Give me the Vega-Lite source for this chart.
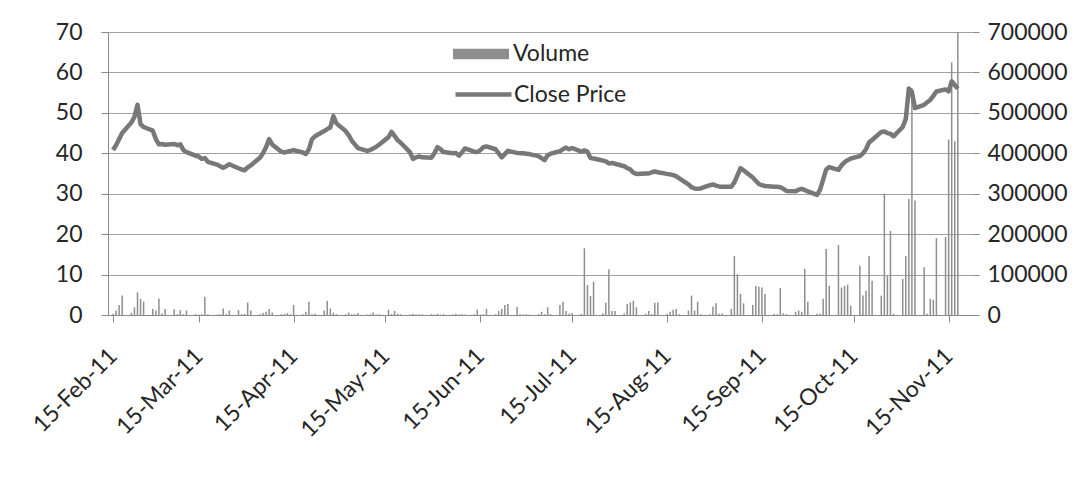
{
"$schema": "https://vega.github.io/schema/vega-lite/v6.json",
"width": 864, "height": 283,
"autosize": {"type": "none"},
"padding": {"left": 108, "top": 32, "right": 107, "bottom": 171},
"background": "white",
"config": {"font": "Lato", "view": {"stroke": null}},
"data": {"format": {"parse": {"date": "date:'%Y-%m-%d'"}}, "values": [
{"date":"2011-02-15","price":40.8,"volume":3000},
{"date":"2011-02-16","price":42.0,"volume":11000},
{"date":"2011-02-17","price":43.5,"volume":25000},
{"date":"2011-02-18","price":45.0,"volume":48000},
{"date":"2011-02-21","price":47.6,"volume":5000},
{"date":"2011-02-22","price":49.0,"volume":19000},
{"date":"2011-02-23","price":52.0,"volume":56000},
{"date":"2011-02-24","price":47.2,"volume":40000},
{"date":"2011-02-25","price":46.5,"volume":33000},
{"date":"2011-02-28","price":45.6,"volume":15000},
{"date":"2011-03-01","price":43.5,"volume":11000},
{"date":"2011-03-02","price":42.2,"volume":41000},
{"date":"2011-03-03","price":42.3,"volume":4000},
{"date":"2011-03-04","price":42.1,"volume":15000},
{"date":"2011-03-07","price":42.3,"volume":14000},
{"date":"2011-03-08","price":42.0,"volume":2000},
{"date":"2011-03-09","price":42.2,"volume":12000},
{"date":"2011-03-10","price":40.8,"volume":2000},
{"date":"2011-03-11","price":40.3,"volume":11000},
{"date":"2011-03-14","price":39.4,"volume":2000},
{"date":"2011-03-15","price":39.2,"volume":1000},
{"date":"2011-03-16","price":38.6,"volume":2000},
{"date":"2011-03-17","price":38.8,"volume":45000},
{"date":"2011-03-18","price":37.9,"volume":2000},
{"date":"2011-03-21","price":37.2,"volume":1000},
{"date":"2011-03-22","price":36.8,"volume":2000},
{"date":"2011-03-23","price":36.4,"volume":16000},
{"date":"2011-03-24","price":36.8,"volume":2000},
{"date":"2011-03-25","price":37.3,"volume":11000},
{"date":"2011-03-28","price":36.3,"volume":12000},
{"date":"2011-03-29","price":36.0,"volume":2000},
{"date":"2011-03-30","price":35.8,"volume":3000},
{"date":"2011-03-31","price":36.5,"volume":31000},
{"date":"2011-04-01","price":37.0,"volume":11000},
{"date":"2011-04-04","price":38.9,"volume":2000},
{"date":"2011-04-05","price":40.0,"volume":5000},
{"date":"2011-04-06","price":41.5,"volume":8000},
{"date":"2011-04-07","price":43.5,"volume":15000},
{"date":"2011-04-08","price":42.2,"volume":6000},
{"date":"2011-04-11","price":40.4,"volume":2000},
{"date":"2011-04-12","price":40.2,"volume":3000},
{"date":"2011-04-13","price":40.4,"volume":5000},
{"date":"2011-04-14","price":40.6,"volume":2000},
{"date":"2011-04-15","price":40.8,"volume":25000},
{"date":"2011-04-18","price":40.2,"volume":2000},
{"date":"2011-04-19","price":39.8,"volume":8000},
{"date":"2011-04-20","price":41.0,"volume":33000},
{"date":"2011-04-21","price":43.5,"volume":2000},
{"date":"2011-04-22","price":44.2,"volume":3000},
{"date":"2011-04-25","price":45.5,"volume":11000},
{"date":"2011-04-26","price":46.0,"volume":35000},
{"date":"2011-04-27","price":46.4,"volume":16000},
{"date":"2011-04-28","price":49.2,"volume":6000},
{"date":"2011-04-29","price":47.4,"volume":2000},
{"date":"2011-05-02","price":45.5,"volume":2000},
{"date":"2011-05-03","price":44.5,"volume":6000},
{"date":"2011-05-04","price":43.1,"volume":1000},
{"date":"2011-05-05","price":42.2,"volume":2000},
{"date":"2011-05-06","price":41.3,"volume":5000},
{"date":"2011-05-09","price":40.6,"volume":1000},
{"date":"2011-05-10","price":40.8,"volume":2000},
{"date":"2011-05-11","price":41.2,"volume":6000},
{"date":"2011-05-12","price":41.6,"volume":1000},
{"date":"2011-05-13","price":42.2,"volume":2000},
{"date":"2011-05-16","price":44.0,"volume":13000},
{"date":"2011-05-17","price":45.3,"volume":2000},
{"date":"2011-05-18","price":44.3,"volume":10000},
{"date":"2011-05-19","price":43.2,"volume":3000},
{"date":"2011-05-20","price":42.6,"volume":2000},
{"date":"2011-05-23","price":40.3,"volume":1000},
{"date":"2011-05-24","price":38.6,"volume":3000},
{"date":"2011-05-25","price":39.0,"volume":1000},
{"date":"2011-05-26","price":39.2,"volume":2000},
{"date":"2011-05-27","price":39.0,"volume":1000},
{"date":"2011-05-30","price":38.9,"volume":2000},
{"date":"2011-05-31","price":40.0,"volume":1000},
{"date":"2011-06-01","price":41.5,"volume":3000},
{"date":"2011-06-02","price":41.0,"volume":1000},
{"date":"2011-06-03","price":40.3,"volume":2000},
{"date":"2011-06-06","price":40.0,"volume":1000},
{"date":"2011-06-07","price":40.1,"volume":3000},
{"date":"2011-06-08","price":39.4,"volume":1000},
{"date":"2011-06-09","price":40.2,"volume":2000},
{"date":"2011-06-10","price":41.2,"volume":1000},
{"date":"2011-06-13","price":40.4,"volume":2000},
{"date":"2011-06-14","price":40.3,"volume":13000},
{"date":"2011-06-15","price":40.8,"volume":1000},
{"date":"2011-06-16","price":41.5,"volume":2000},
{"date":"2011-06-17","price":41.7,"volume":15000},
{"date":"2011-06-20","price":41.0,"volume":2000},
{"date":"2011-06-21","price":40.0,"volume":10000},
{"date":"2011-06-22","price":39.0,"volume":15000},
{"date":"2011-06-23","price":39.8,"volume":25000},
{"date":"2011-06-24","price":40.6,"volume":27000},
{"date":"2011-06-27","price":40.1,"volume":20000},
{"date":"2011-06-28","price":40.0,"volume":2000},
{"date":"2011-06-29","price":40.0,"volume":1000},
{"date":"2011-06-30","price":39.9,"volume":2000},
{"date":"2011-07-01","price":39.8,"volume":1000},
{"date":"2011-07-04","price":39.3,"volume":2000},
{"date":"2011-07-05","price":38.8,"volume":8000},
{"date":"2011-07-06","price":38.3,"volume":2000},
{"date":"2011-07-07","price":39.5,"volume":19000},
{"date":"2011-07-08","price":39.9,"volume":2000},
{"date":"2011-07-11","price":40.5,"volume":25000},
{"date":"2011-07-12","price":41.0,"volume":33000},
{"date":"2011-07-13","price":41.4,"volume":10000},
{"date":"2011-07-14","price":41.0,"volume":3000},
{"date":"2011-07-15","price":41.3,"volume":5000},
{"date":"2011-07-18","price":40.4,"volume":3000},
{"date":"2011-07-19","price":40.7,"volume":165000},
{"date":"2011-07-20","price":40.4,"volume":74000},
{"date":"2011-07-21","price":38.8,"volume":47000},
{"date":"2011-07-22","price":38.7,"volume":82000},
{"date":"2011-07-25","price":38.2,"volume":4000},
{"date":"2011-07-26","price":38.0,"volume":30000},
{"date":"2011-07-27","price":37.5,"volume":113000},
{"date":"2011-07-28","price":37.6,"volume":10000},
{"date":"2011-07-29","price":37.4,"volume":10000},
{"date":"2011-08-01","price":36.8,"volume":4000},
{"date":"2011-08-02","price":36.3,"volume":27000},
{"date":"2011-08-03","price":36.0,"volume":31000},
{"date":"2011-08-04","price":35.2,"volume":35000},
{"date":"2011-08-05","price":34.9,"volume":19000},
{"date":"2011-08-08","price":35.0,"volume":3000},
{"date":"2011-08-09","price":35.0,"volume":10000},
{"date":"2011-08-10","price":35.3,"volume":2000},
{"date":"2011-08-11","price":35.5,"volume":30000},
{"date":"2011-08-12","price":35.3,"volume":31000},
{"date":"2011-08-15","price":34.9,"volume":3000},
{"date":"2011-08-16","price":34.8,"volume":8000},
{"date":"2011-08-17","price":34.6,"volume":13000},
{"date":"2011-08-18","price":34.3,"volume":15000},
{"date":"2011-08-19","price":33.8,"volume":2000},
{"date":"2011-08-22","price":32.3,"volume":11000},
{"date":"2011-08-23","price":31.6,"volume":48000},
{"date":"2011-08-24","price":31.3,"volume":11000},
{"date":"2011-08-25","price":31.2,"volume":33000},
{"date":"2011-08-26","price":31.3,"volume":2000},
{"date":"2011-08-29","price":32.1,"volume":2000},
{"date":"2011-08-30","price":32.3,"volume":21000},
{"date":"2011-08-31","price":32.0,"volume":29000},
{"date":"2011-09-01","price":31.8,"volume":3000},
{"date":"2011-09-02","price":31.7,"volume":4000},
{"date":"2011-09-05","price":31.7,"volume":15000},
{"date":"2011-09-06","price":32.8,"volume":146000},
{"date":"2011-09-07","price":34.5,"volume":101000},
{"date":"2011-09-08","price":36.3,"volume":52000},
{"date":"2011-09-09","price":35.8,"volume":29000},
{"date":"2011-09-12","price":34.0,"volume":25000},
{"date":"2011-09-13","price":33.2,"volume":72000},
{"date":"2011-09-14","price":32.4,"volume":70000},
{"date":"2011-09-15","price":32.1,"volume":68000},
{"date":"2011-09-16","price":31.9,"volume":52000},
{"date":"2011-09-19","price":31.7,"volume":3000},
{"date":"2011-09-20","price":31.7,"volume":2000},
{"date":"2011-09-21","price":31.6,"volume":67000},
{"date":"2011-09-22","price":31.2,"volume":4000},
{"date":"2011-09-23","price":30.7,"volume":2000},
{"date":"2011-09-26","price":30.6,"volume":8000},
{"date":"2011-09-27","price":31.0,"volume":11000},
{"date":"2011-09-28","price":31.2,"volume":8000},
{"date":"2011-09-29","price":30.9,"volume":114000},
{"date":"2011-09-30","price":30.6,"volume":33000},
{"date":"2011-10-03","price":29.7,"volume":3000},
{"date":"2011-10-04","price":31.0,"volume":3000},
{"date":"2011-10-05","price":33.5,"volume":40000},
{"date":"2011-10-06","price":36.0,"volume":163000},
{"date":"2011-10-07","price":36.6,"volume":72000},
{"date":"2011-10-10","price":35.9,"volume":173000},
{"date":"2011-10-11","price":37.0,"volume":68000},
{"date":"2011-10-12","price":37.8,"volume":72000},
{"date":"2011-10-13","price":38.3,"volume":75000},
{"date":"2011-10-14","price":38.7,"volume":23000},
{"date":"2011-10-17","price":39.3,"volume":122000},
{"date":"2011-10-18","price":40.0,"volume":48000},
{"date":"2011-10-19","price":41.0,"volume":60000},
{"date":"2011-10-20","price":42.7,"volume":146000},
{"date":"2011-10-21","price":43.3,"volume":85000},
{"date":"2011-10-24","price":45.3,"volume":48000},
{"date":"2011-10-25","price":45.4,"volume":300000},
{"date":"2011-10-26","price":45.0,"volume":97000},
{"date":"2011-10-27","price":44.8,"volume":208000},
{"date":"2011-10-28","price":44.2,"volume":3000},
{"date":"2011-10-31","price":46.5,"volume":89000},
{"date":"2011-11-01","price":48.5,"volume":146000},
{"date":"2011-11-02","price":56.0,"volume":287000},
{"date":"2011-11-03","price":55.2,"volume":560000},
{"date":"2011-11-04","price":51.2,"volume":283000},
{"date":"2011-11-07","price":52.0,"volume":118000},
{"date":"2011-11-08","price":52.6,"volume":3000},
{"date":"2011-11-09","price":53.2,"volume":40000},
{"date":"2011-11-10","price":54.2,"volume":38000},
{"date":"2011-11-11","price":55.3,"volume":190000},
{"date":"2011-11-14","price":55.8,"volume":193000},
{"date":"2011-11-15","price":55.3,"volume":434000},
{"date":"2011-11-16","price":57.8,"volume":625000},
{"date":"2011-11-17","price":56.9,"volume":430000},
{"date":"2011-11-18","price":56.0,"volume":700000}
]},
"encoding": {
  "x": {"field": "date", "type": "temporal", "title": null,
    "scale": {"domain": [{"year": 2011, "month": 2, "date": 15}, {"year": 2011, "month": 11, "date": 21}]},
    "axis": {
      "values": [{"year":2011,"month":2,"date":15},{"year":2011,"month":3,"date":15},{"year":2011,"month":4,"date":15},{"year":2011,"month":5,"date":15},{"year":2011,"month":6,"date":15},{"year":2011,"month":7,"date":15},{"year":2011,"month":8,"date":15},{"year":2011,"month":9,"date":15},{"year":2011,"month":10,"date":15},{"year":2011,"month":11,"date":15}],
      "format": "%d-%b-%y", "labelAngle": -45, "labelAlign": "right", "labelBaseline": "middle",
      "labelFontSize": 23, "labelColor": "#262626", "labelPadding": 30,
      "tickSize": 7, "tickColor": "#8a8a8a", "domainColor": "#8a8a8a",
      "grid": false, "labelOverlap": false, "labelFlush": false, "labelBound": false
    }
  }
},
"layer": [
  {
    "mark": {"type": "bar", "size": 1.5},
    "encoding": {
      "y": {"field": "volume", "type": "quantitative", "title": null,
        "scale": {"domain": [0, 700000], "nice": false},
        "axis": {"orient": "right", "values": [0,100000,200000,300000,400000,500000,600000,700000], "format": "d",
          "grid": false, "domain": false, "tickSize": 7, "tickColor": "#8a8a8a", "labelPadding": 8,
          "labelFontSize": 23, "labelColor": "#262626"}},
      "color": {"datum": "Volume", "scale": {"range": ["#8e8e8e"]},
        "legend": {"orient": "none", "legendX": 345, "legendY": -6, "title": null,
          "symbolType": "M-1,-0.19H1V0.19H-1Z", "symbolSize": 3136, "symbolStrokeWidth": 0,
          "labelFontSize": 23, "labelColor": "#262626", "labelOffset": 4, "padding": 0}}
    }
  },
  {
    "mark": {"type": "line", "strokeWidth": 4.5, "strokeJoin": "round"},
    "encoding": {
      "y": {"field": "price", "type": "quantitative", "title": null,
        "scale": {"domain": [0, 70], "nice": false},
        "axis": {"orient": "left", "values": [0,10,20,30,40,50,60,70],
          "grid": true, "gridColor": "#a0a0a0", "gridWidth": 1,
          "domainColor": "#8a8a8a", "tickSize": 7, "tickColor": "#8a8a8a", "labelPadding": 19,
          "labelFontSize": 23, "labelColor": "#262626"}},
      "color": {"datum": "Close Price", "scale": {"range": ["#787878"]},
        "legend": {"orient": "none", "legendX": 345, "legendY": 32, "title": null,
          "symbolType": "stroke", "symbolSize": 3136, "symbolStrokeWidth": 4.5,
          "labelFontSize": 23, "labelColor": "#262626", "labelOffset": 0, "padding": 0}}
    }
  }
],
"resolve": {"scale": {"y": "independent", "color": "independent"}}
}
